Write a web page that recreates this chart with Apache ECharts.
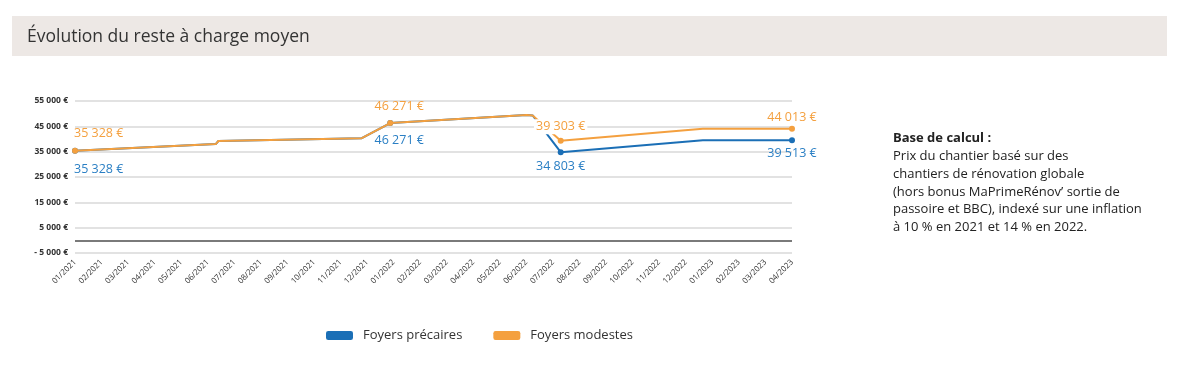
<!DOCTYPE html>
<html><head><meta charset="utf-8">
<script src="https://cdn.jsdelivr.net/npm/echarts@6/dist/echarts.min.js"></script>
<style>html,body{margin:0;padding:0;background:#fff}#c{width:1200px;height:374px}</style>
</head><body><div id="c"></div>
<script>
const monthLabels = ['01/2021','02/2021','03/2021','04/2021','05/2021','06/2021','07/2021','08/2021','09/2021','10/2021','11/2021','12/2021',
  '01/2022','02/2022','03/2022','04/2022','05/2022','06/2022','07/2022','08/2022','09/2022','10/2022','11/2022','12/2022',
  '01/2023','02/2023','03/2023','04/2023'];
const yTicks = [-5000, 5000, 15000, 25000, 35000, 45000, 55000];
const dates = ['2021-01-01','2021-06-10','2021-06-13','2021-11-25','2021-12-28','2022-06-01','2022-06-08','2022-07-10','2022-12-21','2023-04-01'];
const precaires = [35328, 38000, 39200, 40300, 46271, 49500, 49300, 34803, 39513, 39513];
const modestes  = [35328, 38000, 39200, 40300, 46271, 49500, 49300, 39303, 44013, 44013];
const labeledIdx = [0, 4, 7, 9];
const seriesNames = ['Foyers précaires', 'Foyers modestes'];
const noteTitle = 'Base de calcul :';
const noteLines = ['Prix du chantier basé sur des','chantiers de rénovation globale',"(hors bonus MaPrimeRénov’ sortie de",'passoire et BBC), indexé sur une inflation','à 10 % en 2021 et 14 % en 2022.'];
const chartTitle = 'Évolution du reste à charge moyen';

const BLUE = '#1b6fb6', ORANGE = '#f4a03f';
const FONT = '"Open Sans", "Noto Sans", sans-serif';

function monthPos(d) {
  const [y, m, day] = d.split('-').map(Number);
  const dim = new Date(y, m, 0).getDate();
  return (y - 2021) * 12 + (m - 1) + (day - 1) / dim;
}
function fmtEuro(v) {
  const s = Math.abs(Math.round(v)).toString().replace(/\B(?=(\d{3})+(?!\d))/g, ' ');
  return (v < 0 ? '- ' : '') + s + ' €';
}

// label placement per labelled point: [align, offsetX, distance]
const orangeLbl = {0: ['left', -1, 7], 4: ['center', 9, 6.5], 7: ['center', 0, 3.5], 9: ['center', 0, 0.5]};
const blueLbl = {0: ['left', -1, 8.5], 4: ['center', 9, 6.5], 7: ['center', 0, 3.5], 9: ['center', 0, 3]};

function buildData(vals, color, pos, cfg) {
  return vals.map((v, i) => {
    const item = {value: [monthPos(dates[i]), v]};
    if (labeledIdx.includes(i)) {
      const c = cfg[i];
      item.symbol = 'circle';
      item.symbolSize = 6;
      item.label = {
        show: true, position: pos, distance: c[2], align: c[0], offset: [c[1], 0],
        color: color, fontSize: 12.5, fontFamily: FONT, lineHeight: 15,
        formatter: () => fmtEuro(v),
        backgroundColor: i === 7 && pos === 'top' ? '#fff' : 'transparent',
        padding: i === 7 && pos === 'top' ? [0, 2] : 0
      };
    } else {
      item.symbol = 'none';
    }
    return item;
  });
}

const chart = echarts.init(document.getElementById('c'), null, {renderer: 'canvas'});
chart.setOption({
  animation: false,
  backgroundColor: '#fff',
  textStyle: {fontFamily: FONT},
  graphic: [
    {type: 'rect', shape: {x: 12, y: 16, width: 1155, height: 40}, style: {fill: '#ede8e5'}, silent: true},
    {type: 'text', x: 27, y: 37, style: {text: chartTitle, font: '17.5px ' + FONT, fill: '#333', verticalAlign: 'middle'}},
    {type: 'text', x: 893, y: 129.5, style: {
      text: '{b|' + noteTitle + '}\n' + noteLines.join('\n'),
      font: '13px ' + FONT, fill: '#222', lineHeight: 17.8,
      rich: {b: {fontWeight: 'bold', fontSize: 13, fontFamily: FONT, lineHeight: 17.8, fill: '#222'}}
    }}
  ],
  grid: {left: 75, top: 101, width: 717, height: 152, containLabel: false},
  legend: {
    left: 326, top: 329, padding: 0, itemWidth: 27, itemHeight: 9, itemGap: 31, icon: 'roundRect',
    data: seriesNames,
    textStyle: {fontSize: 13, color: '#333', fontFamily: FONT, padding: [0, 0, 0, 5]}
  },
  xAxis: {
    type: 'value', min: 0, max: monthLabels.length - 1, interval: 1,
    axisLine: {show: false}, axisTick: {show: false}, splitLine: {show: false},
    axisLabel: {rotate: 45, fontSize: 8, color: '#333', margin: 8, fontFamily: FONT,
      formatter: v => monthLabels[Math.round(v)] || ''}
  },
  yAxis: {
    type: 'value', min: yTicks[0], max: yTicks[yTicks.length - 1], interval: 10000,
    axisLine: {show: false}, axisTick: {show: false},
    splitLine: {lineStyle: {color: '#d9d9d9', width: 1.5}},
    axisLabel: {fontSize: 8.5, color: '#333', fontWeight: 'bold', margin: 7, fontFamily: FONT,
      formatter: v => fmtEuro(v)}
  },
  series: [
    {
      name: seriesNames[0], type: 'line', color: BLUE,
      data: buildData(precaires, '#2a7fc4', 'bottom', blueLbl),
      lineStyle: {width: 2, color: BLUE}, itemStyle: {color: BLUE},
      showSymbol: true, z: 2,
      markLine: {silent: true, symbol: 'none', label: {show: false},
        lineStyle: {color: '#7a7a7a', width: 2, type: 'solid'}, data: [{yAxis: 0}]}
    },
    {
      name: seriesNames[1], type: 'line', color: ORANGE,
      data: buildData(modestes, ORANGE, 'top', orangeLbl),
      lineStyle: {width: 2, color: ORANGE}, itemStyle: {color: ORANGE},
      showSymbol: true, z: 3
    }
  ]
});
</script></body></html>
